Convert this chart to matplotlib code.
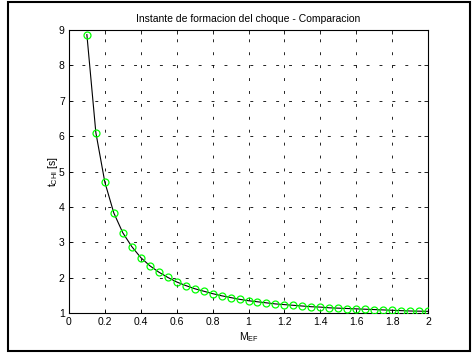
"""Instante de formacion del choque - comparacion (MATLAB-style figure)."""

import matplotlib
matplotlib.use("Agg")
import matplotlib.pyplot as plt
from matplotlib.patches import Rectangle

# DATA

m_ef = [0.10, 0.15, 0.20, 0.25, 0.30, 0.35, 0.40, 0.45, 0.50, 0.55,
        0.60, 0.65, 0.70, 0.75, 0.80, 0.85, 0.90, 0.95, 1.00, 1.05,
        1.10, 1.15, 1.20, 1.25, 1.30, 1.35, 1.40, 1.45, 1.50, 1.55,
        1.60, 1.65, 1.70, 1.75, 1.80, 1.85, 1.90, 1.95, 2.00]
t_chi = [8.87, 6.10, 4.70, 3.83, 3.27, 2.88, 2.57, 2.34, 2.16, 2.01,
         1.88, 1.78, 1.69, 1.62, 1.55, 1.49, 1.44, 1.39, 1.35, 1.32,
         1.29, 1.26, 1.24, 1.22, 1.20, 1.18, 1.17, 1.15, 1.14, 1.13,
         1.12, 1.11, 1.10, 1.09, 1.08, 1.07, 1.06, 1.055, 1.05]
x_ticks = [0, 0.2, 0.4, 0.6, 0.8, 1, 1.2, 1.4, 1.6, 1.8, 2]
y_ticks = [1, 2, 3, 4, 5, 6, 7, 8, 9]

plt.rcParams["font.family"] = ["Liberation Sans", "DejaVu Sans"]
plt.rcParams["font.size"] = 7.5
plt.rcParams["mathtext.default"] = "regular"

fig = plt.figure(figsize=(4.72, 3.53), dpi=100)
ax = fig.add_axes([0.146, 0.113, 0.761, 0.802])

ax.plot(m_ef, t_chi, color="black", linewidth=0.8, zorder=3)
ax.plot(m_ef, t_chi, linestyle="none", marker="o", markersize=5,
        markerfacecolor="none", markeredgecolor="#00ff00",
        markeredgewidth=0.9, zorder=4)

ax.set_xlim(0, 2)
ax.set_ylim(1, 9)
ax.set_xticks(x_ticks)
ax.set_xticklabels([f"{v:g}" for v in x_ticks])
ax.set_yticks(y_ticks)
ax.tick_params(direction="in", length=3, width=0.6, top=True, right=True,
               pad=3)
# sparse MATLAB-like dotted grid
ax.grid(True, color="black", linestyle=(0, (3.5, 12)), linewidth=0.6)
for spine in ax.spines.values():
    spine.set_linewidth(0.8)

ax.set_title("Instante de formacion del choque - Comparacion", fontsize=7.5,
             pad=6)
ax.set_xlabel("M$_{EF}$", labelpad=2)
ax.set_ylabel("t$_{CHI}$ [s]", labelpad=-1)

# outer frame around the figure
fig.patches.append(Rectangle((8 / 472, 2 / 353), 462 / 472, 349 / 353,
                             transform=fig.transFigure, fill=False,
                             edgecolor="black", linewidth=1.5))

fig.savefig("out.png", dpi=100)
